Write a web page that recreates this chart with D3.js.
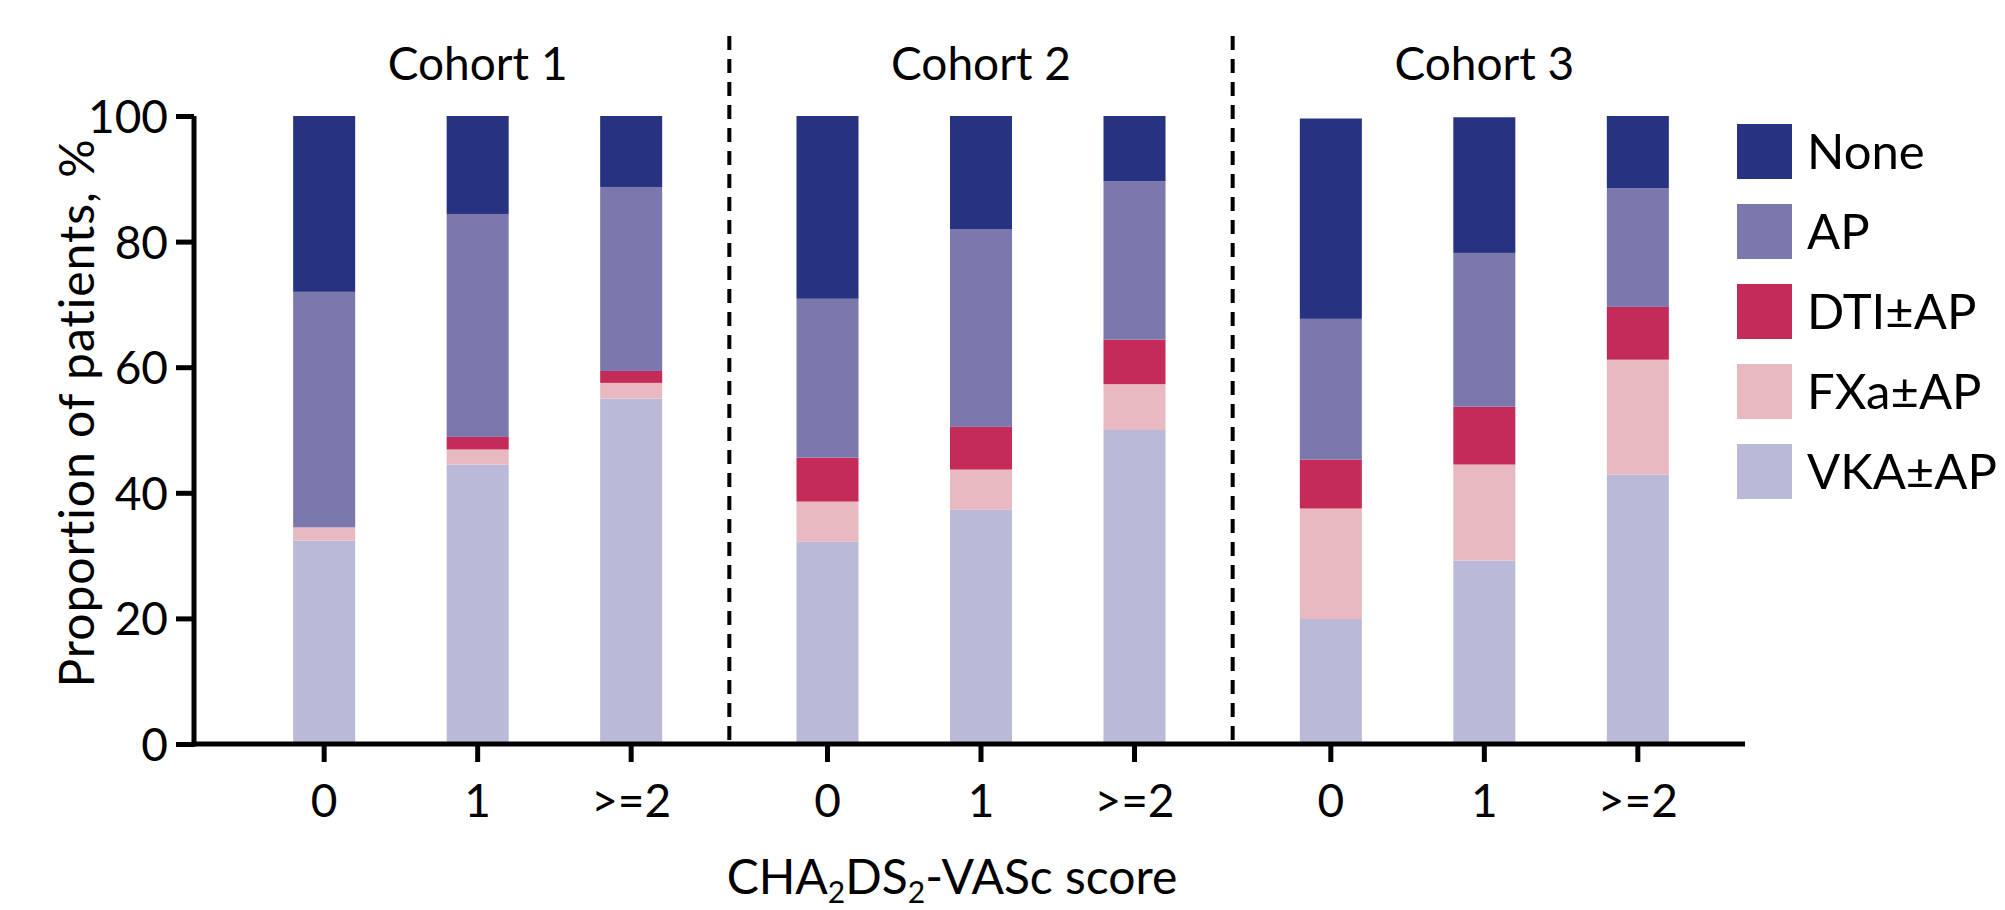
<!DOCTYPE html>
<html>
<head>
<meta charset="utf-8">
<script src="https://cdn.jsdelivr.net/npm/d3@7"></script>
<style>
  body { margin: 0; background: #fff; }
  text { font-family: Lato, "Open Sans", sans-serif; fill: #000; }
</style>
</head>
<body>
<script>
// categories
var cohorts = ["Cohort 1", "Cohort 2", "Cohort 3"];
var scores = ["0", "1", ">=2"];
var yTicks = [0, 20, 40, 60, 80, 100];

// series values, one entry per bar (cohort by cohort, score 0, 1, >=2)
var vka  = [32.4, 44.5, 55.0, 32.2, 37.3, 50.0, 19.9, 29.2, 42.9];
var fxa  = [2.1, 2.4, 2.5, 6.4, 6.4, 7.3, 17.6, 15.3, 18.3];
var dti  = [0.0, 2.0, 1.9, 7.0, 6.8, 7.1, 7.8, 9.2, 8.4];
var ap   = [37.5, 35.5, 29.3, 25.3, 31.5, 25.2, 22.4, 24.5, 18.9];
var none = [28.0, 15.6, 11.3, 29.1, 18.0, 10.4, 31.9, 21.6, 11.5];

// stacking order, bottom to top
var keys = ["VKA±AP", "FXa±AP", "DTI±AP", "AP", "None"];
var colors = ["#bbb9d8", "#e8b9c1", "#c42b58", "#7a78ad", "#273380"];
var legendKeys = ["None", "AP", "DTI±AP", "FXa±AP", "VKA±AP"];

var W = 2005, H = 910;
var svg = d3.select("body").append("svg")
    .attr("width", W)
    .attr("height", H);

// build rows for d3.stack
var rows = [];
cohorts.forEach(function(c, i) {
  scores.forEach(function(s, j) {
    var k = i * 3 + j;
    var r = {cohort: c, score: s};
    r["VKA±AP"] = vka[k];
    r["FXa±AP"] = fxa[k];
    r["DTI±AP"] = dti[k];
    r["AP"] = ap[k];
    r["None"] = none[k];
    rows.push(r);
  });
});

var stack = d3.stack().keys(keys)(rows);
var color = d3.scaleOrdinal().domain(keys).range(colors);

// scales
var axisX = 194, axisEnd = 1745;
var x0 = d3.scaleBand().domain(cohorts).range([226, 1736]);
var x1 = d3.scaleBand().domain(scores).range([0, x0.bandwidth()])
    .paddingInner(0.596).paddingOuter(0.4375);
var y = d3.scaleLinear().domain([0, 100]).range([744, 116]);

// bars
svg.append("g").selectAll("g")
  .data(stack)
  .enter().append("g")
    .attr("fill", function(d) { return color(d.key); })
  .selectAll("rect")
  .data(function(d) { return d; })
  .enter().append("rect")
    .attr("x", function(d) { return x0(d.data.cohort) + x1(d.data.score); })
    .attr("y", function(d) { return y(d[1]); })
    .attr("width", x1.bandwidth())
    .attr("height", function(d) { return y(d[0]) - y(d[1]); });

// dashed dividers between cohorts
svg.append("g").selectAll("line")
  .data(cohorts.slice(1))
  .enter().append("line")
    .attr("x1", function(d) { return x0(d); })
    .attr("x2", function(d) { return x0(d); })
    .attr("y1", 36)
    .attr("y2", y(0))
    .attr("stroke", "#000")
    .attr("stroke-width", 4)
    .attr("stroke-dasharray", "14,9");

// cohort titles
svg.append("g").selectAll("text")
  .data(cohorts)
  .enter().append("text")
    .attr("x", function(d) { return x0(d) + x0.bandwidth() / 2; })
    .attr("y", 80)
    .attr("text-anchor", "middle")
    .style("font-size", "46px")
    .text(function(d) { return d; });

// y axis
var yAxis = d3.axisLeft(y).tickValues(yTicks).tickSize(18).tickPadding(8);
var gy = svg.append("g")
    .attr("transform", "translate(" + axisX + ",0)")
    .call(yAxis);
gy.select(".domain").attr("stroke-width", 5).attr("d", "M0," + (y(0) + 2.5) + "V" + y(100));
gy.selectAll(".tick line").attr("stroke-width", 5);
gy.selectAll(".tick text").style("font-size", "46px").attr("dy", "0.36em");

// x axis: a band axis for each cohort
var xAxis = d3.axisBottom(x1).tickSize(18).tickPadding(22);
cohorts.forEach(function(c) {
  var gx = svg.append("g")
      .attr("transform", "translate(" + x0(c) + "," + y(0) + ")")
      .call(xAxis);
  gx.select(".domain").remove();
  gx.selectAll(".tick line").attr("stroke-width", 5);
  gx.selectAll(".tick text").style("font-size", "46px");
});
svg.append("line")
    .attr("x1", axisX - 2.5).attr("x2", axisEnd)
    .attr("y1", y(0)).attr("y2", y(0))
    .attr("stroke", "#000").attr("stroke-width", 5);

// axis titles
svg.append("text")
    .attr("transform", "translate(94,413) rotate(-90)")
    .attr("text-anchor", "middle")
    .style("font-size", "48px")
    .style("letter-spacing", "1px")
    .text("Proportion of patients, %");

var xt = svg.append("text")
    .attr("x", 952)
    .attr("y", 894)
    .attr("text-anchor", "middle")
    .style("font-size", "48px");
xt.append("tspan").text("CHA");
xt.append("tspan").attr("dy", 9).style("font-size", "30px").text("2");
xt.append("tspan").attr("dy", -9).text("DS");
xt.append("tspan").attr("dy", 9).style("font-size", "30px").text("2");
xt.append("tspan").attr("dy", -9).text("-VASc score");

// legend
var legend = svg.append("g").selectAll("g")
  .data(legendKeys)
  .enter().append("g")
    .attr("transform", function(d, i) { return "translate(1737," + (124 + i * 80) + ")"; });
legend.append("rect")
    .attr("width", 55)
    .attr("height", 55)
    .attr("fill", function(d) { return color(d); });
legend.append("text")
    .attr("x", 70)
    .attr("y", 45)
    .style("font-size", "49px")
    .text(function(d) { return d; });
</script>
</body>
</html>
